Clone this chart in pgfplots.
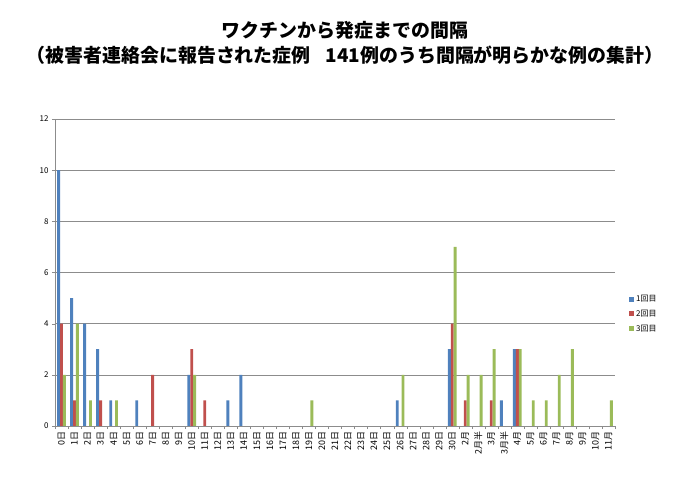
\documentclass[border=0pt]{standalone}
\usepackage{pgfplots}
\pgfplotsset{compat=1.18}
\usepackage{fontspec}
\setmainfont{Noto Sans CJK JP}
\definecolor{c1}{HTML}{4F81BD}
\definecolor{c2}{HTML}{C0504D}
\definecolor{c3}{HTML}{9BBB59}
\definecolor{gridc}{HTML}{8C8C8C}
\begin{document}
\begin{tikzpicture}
\useasboundingbox (-55bp,-55bp) rectangle (632bp,426bp);
\begin{axis}[
  at={(0,0)}, anchor=south west,
  scale only axis, width=560bp, height=307bp,
  xmin=-0.5, xmax=42.5, ymin=0, ymax=12,
  ytick={0,2,...,12},
  xtick={0,...,42},
  xticklabels={0日,1日,2日,3日,4日,5日,6日,7日,8日,9日,10日,11日,12日,13日,14日,15日,16日,17日,18日,19日,20日,21日,22日,23日,24日,25日,26日,27日,28日,29日,30日,2月,2月半,3月,3月半,4月,5月,6月,7月,8月,9月,10月,11月},
  minor xtick={-0.5,0.5,...,42.5},
  major x tick style={draw=none},
  minor tick length=3bp,
  major tick length=3bp,
  tick align=outside,
  axis x line*=bottom, axis y line*=left,
  axis line style={gridc,-},
  tick style={gridc},
  ymajorgrids, grid style={gridc, line width=0.5pt},
  x tick label style={rotate=90, anchor=east, font=\fontsize{9}{9}\selectfont, inner sep=2.5pt},
  y tick label style={font=\fontsize{8}{8}\selectfont},
  /pgf/number format/assume math mode=true,
  ybar=0pt, bar width=2.9bp,
  legend style={at={(1.025,0.365)}, anchor=west, draw=none, font=\fontsize{8}{10}\selectfont, row sep=3bp, inner sep=0pt},
  legend cell align=left,
  legend image code/.code={\fill[#1] (0bp,-2.5bp) rectangle (5bp,2.5bp);},
]
\addplot[fill=c1, draw=none] coordinates {(0,10) (1,5) (2,4) (3,3) (4,1) (6,1) (10,2) (13,1) (14,2) (26,1) (30,3) (34,1) (35,3)};
\addplot[fill=c2, draw=none] coordinates {(0,4) (1,1) (3,1) (7,2) (10,3) (11,1) (30,4) (31,1) (33,1) (35,3)};
\addplot[fill=c3, draw=none] coordinates {(0,2) (1,4) (2,1) (4,1) (10,2) (19,1) (26,2) (30,7) (31,2) (32,2) (33,3) (35,3) (36,1) (37,1) (38,2) (39,3) (42,1)};
\legend{1回目,2回目,3回目}
\end{axis}
\node[font=\bfseries\fontsize{19}{25}\selectfont, align=center] at (290bp,383bp) {ワクチンから発症までの間隔\\（被害者連絡会に報告された症例\hspace{0.8em}141例のうち間隔が明らかな例の集計）};
\end{tikzpicture}
\end{document}
